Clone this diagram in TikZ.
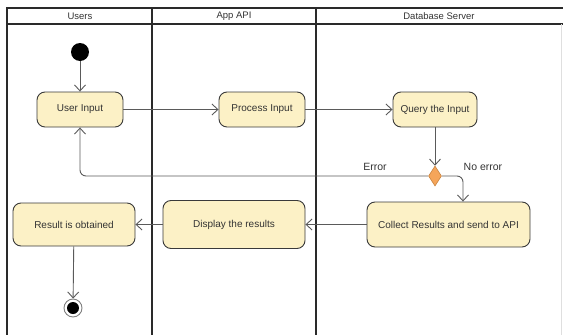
\documentclass[tikz,border=0pt]{standalone}
\usepackage{fontspec}
\setmainfont{Liberation Sans}
\usetikzlibrary{arrows.meta,shapes.geometric}
\definecolor{actfill}{HTML}{FCF1C6}
\definecolor{actline}{HTML}{3A3A3A}
\definecolor{flowline}{HTML}{5A5A5A}
\definecolor{decfill}{HTML}{F5A55A}
\definecolor{decline}{HTML}{C98440}
\definecolor{laneline}{HTML}{2A2A2A}
\definecolor{txt}{HTML}{333333}
\tikzset{
  activity/.style={draw=actline, line width=0.9pt, fill=actfill, rounded corners=8pt,
    font=\fontsize{10}{12}\selectfont, text=txt, inner sep=0pt, align=center},
  flow/.style={draw=flowline, line width=0.9pt, -{Straight Barb[length=6pt,width=11pt,line width=0.9pt]}},
  decision/.style={diamond, draw=decline, fill=decfill, line width=0.6pt, inner sep=0pt,
    minimum width=13pt, minimum height=20pt},
  lane/.style={draw=laneline, line width=1.3pt},
  lanetitle/.style={font=\fontsize{9.5}{11}\selectfont, text=txt},
  guard/.style={font=\fontsize{10.5}{12}\selectfont, text=txt},
  startnode/.style={circle, fill=black, inner sep=0pt, minimum size=18pt},
  endring/.style={circle, draw=gray, line width=0.9pt, fill=white, inner sep=0pt, minimum size=18pt}
}
\begin{document}
\begin{tikzpicture}[x=1pt, y=-1pt]
\useasboundingbox (0,0) rectangle (563,335);
% swimlane frame
\draw[lane] (7,335) -- (7,8) -- (563,8);
\draw[lane] (7,24) -- (563,24);
\draw[lane] (152,8) -- (152,335);
\draw[lane] (316,8) -- (316,335);
\draw[draw=gray!25, line width=0.8pt] (561.5,24) -- (561.5,335);
\node[lanetitle] (hUsers) at (80,16) {Users};
\node[lanetitle] (hApi) at (234,16) {App API};
\node[lanetitle] (hDb) at (439,16) {Database Server};

% activities
\node[startnode] (start) at (80,52) {};
\node[activity, minimum width=86pt, minimum height=35pt] (ui) at (80,109.5) {User Input};
\node[activity, minimum width=86pt, minimum height=35pt] (pi) at (262,109.5) {Process Input};
\node[activity, minimum width=84pt, minimum height=35pt] (qi) at (435,109.5) {Query the Input};
\node[decision] (dec) at (435,176) {};
\node[activity, minimum width=163pt, minimum height=45pt] (col) at (448.5,224.5) {Collect Results and send to API};
\node[activity, minimum width=142pt, minimum height=48pt] (disp) at (234,224.5) {Display the results};
\node[activity, minimum width=122pt, minimum height=43pt] (res) at (74,224.5) {Result is obtained};
\node[endring] (end) at (73,308) {};
\fill (end) circle (6pt);

% flows
\draw[flow] (start) -- (ui);
\draw[flow] (ui) -- (pi);
\draw[flow] (pi) -- (qi);
\draw[flow] (qi) -- (dec);
\draw[flow, rounded corners=6pt] (dec.west) -| (ui.south);
\coordinate (colin) at ([xshift=14.5pt]col.north);
\draw[flow, rounded corners=6pt] (dec.east) -| (colin);
\draw[flow] (col) -- (disp);
\draw[flow] (disp) -- (res);
\draw[flow] (res) -- (end);

% guards
\node[guard] (gErr) at (375,167) {Error};
\node[guard] (gOk) at (483,167) {No error};
\end{tikzpicture}
\end{document}
